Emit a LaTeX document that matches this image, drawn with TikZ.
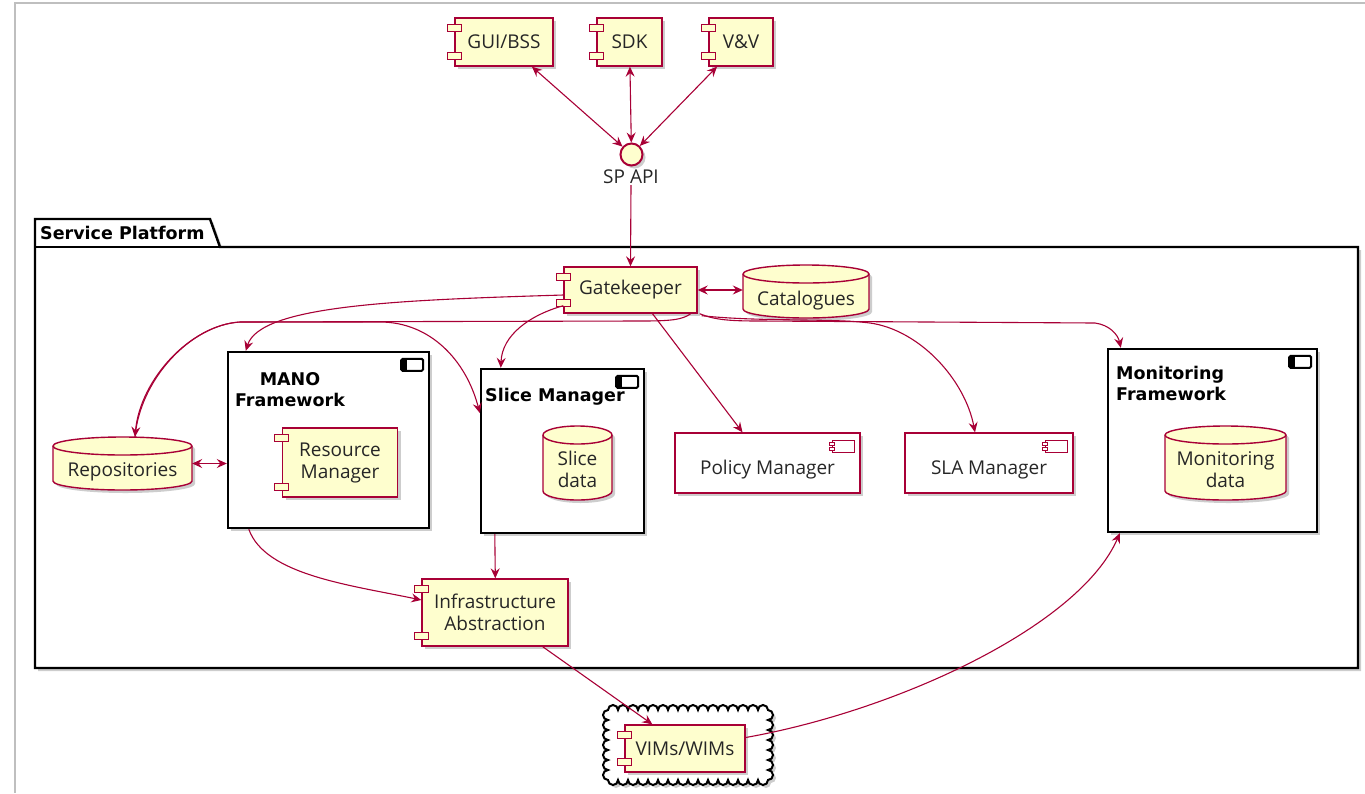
\documentclass[tikz,border=0pt]{standalone}
\usepackage{fontspec}
\setmainfont{Open Sans}
\newfontfamily\boldsans{DejaVu Sans}
\usetikzlibrary{arrows.meta,calc,shadows}
\definecolor{umlred}{HTML}{A80036}
\definecolor{umlfill}{HTML}{FEFECE}
\definecolor{umltext}{HTML}{262626}

% text printed lower than the node centre, keeping the node's box
\newcommand\lowered[2]{\raisebox{-#1}[\height][\depth]{#2}}
\newcommand\twolines[2]{\begin{tabular}{@{}c@{}}#1\\#2\end{tabular}}

\tikzset{
  txtbase/.style={font=\fontsize{19}{22}\selectfont, text=umltext},
  softshadow/.style={drop shadow={shadow xshift=3pt, shadow yshift=-3pt, opacity=0.28, fill=black!70}},
  comp/.style={txtbase, draw=umlred, fill=umlfill, line width=1.4pt, softshadow, inner sep=0pt, align=center},
  lug/.style={draw=umlred, fill=umlfill, line width=1.2pt},
  plaincomp/.style={txtbase, draw=umlred, fill=white, line width=1.4pt, softshadow, inner sep=0pt},
  fwbox/.style={draw=black, fill=white, line width=2.4pt, softshadow, inner sep=0pt},
  ftitle/.style={font=\boldsans\bfseries\fontsize{17.5}{21}\selectfont, text=black, inner sep=0pt},
  dbshape/.style={draw=umlred, fill=umlfill, line width=1.4pt, softshadow},
  dbtext/.style={txtbase, inner sep=0pt, align=center},
  tip/.tip={Stealth[length=10pt,width=9pt,inset=3.5pt]},
  conn/.style={draw=umlred, line width=1.1pt, -tip},
  conntwo/.style={draw=umlred, line width=1.1pt, tip-tip},
}

% component lugs on the left edge
\newcommand\complugs[1]{%
  \draw[lug] ($(#1.north west)+(-7,-7)$) rectangle ++(14,-7);
  \draw[lug] ($(#1.south west)+(-7,7)$) rectangle ++(14,7);}
% small component icon, top right corner
\newcommand\smallicon[1]{%
  \draw[umlred, line width=1.2pt, fill=white] ($(#1.north east)+(-28,-8)$) rectangle ($(#1.north east)+(-6,-20)$);
  \draw[umlred, line width=1pt, fill=white] ($(#1.north east)+(-31,-10)$) rectangle ++(5,-3);
  \draw[umlred, line width=1pt, fill=white] ($(#1.north east)+(-31,-15)$) rectangle ++(5,-3);}
% black component icon of a framework box
\newcommand\frameicon[1]{%
  \draw[black, line width=2pt, rounded corners=1.5pt, fill=white] ($(#1.north east)+(-29,-8)$) rectangle ($(#1.north east)+(-7,-20)$);
  \fill[black] ($(#1.north east)+(-29,-8)$) rectangle ($(#1.north east)+(-23,-20)$);}
% database cylinder: x0, ytop, x1, ybottom (y measured downwards)
\newcommand\cyl[4]{%
  \pgfmathsetmacro\crx{(#3-#1)/2}%
  \path[dbshape] (#1,-#2-9) -- (#1,-#4+9)
     arc[start angle=180,end angle=360,x radius=\crx pt,y radius=9pt]
     -- (#3,-#2-9)
     arc[start angle=0,end angle=180,x radius=\crx pt,y radius=9pt] -- cycle;
  \draw[umlred, line width=1.4pt] (#1,-#2-9) arc[start angle=180,end angle=360,x radius=\crx pt,y radius=9pt];}

\begin{document}
\begin{tikzpicture}[x=1pt,y=1pt]
\useasboundingbox (0,0) rectangle (1365,-793);
\draw[black!25, line width=1.2pt] (15,-793) -- (15,-3) -- (1365,-3);

% external clients
\node[comp, minimum width=98pt, minimum height=48pt] (gui) at (504,-42) {GUI/BSS};
\complugs{gui}
\node[comp, minimum width=65pt, minimum height=48pt] (sdk) at (629.5,-42) {SDK};
\complugs{sdk}
\node[comp, minimum width=64pt, minimum height=48pt] (vv) at (741,-42) {V\&V};
\complugs{vv}

\node[circle, draw=umlred, fill=umlfill, line width=2pt, minimum size=22pt, inner sep=0pt, softshadow] (api) at (631.5,-154.5) {};
\node[txtbase, inner sep=1pt] (apit) at (631,-177) {SP API};

% service platform package
\path[draw=black, fill=white, line width=2.4pt, softshadow]
  (35,-668) -- (35,-219) -- (210,-219) -- (220,-247) -- (1358,-247) -- (1358,-668) -- cycle;
\draw[black, line width=2.4pt] (35,-247) -- (220,-247);
\node[ftitle, anchor=west] (pkgt) at (40,-233) {Service Platform};

% gatekeeper and catalogues
\node[comp, minimum width=133pt, minimum height=46pt] (gk) at (630.5,-290) {Gatekeeper};
\complugs{gk}
\cyl{743}{265}{869}{318}
\node[dbtext, minimum width=126pt, minimum height=53pt] (cat) at (806,-291.5) {\lowered{9pt}{Catalogues}};

% repositories
\cyl{53}{437}{192}{490}
\node[dbtext, minimum width=139pt, minimum height=53pt] (repo) at (122.5,-463.5) {\lowered{8pt}{Repositories}};

% MANO framework
\node[fwbox, minimum width=201pt, minimum height=176pt] (mano) at (328.5,-440) {};
\frameicon{mano}
\node[ftitle, align=center] (manot) at (290,-390) {MANO\\Framework};
\node[comp, minimum width=115pt, minimum height=69pt] (rm) at (340,-462.5) {Resource\\Manager};
\complugs{rm}

% slice manager
\node[fwbox, minimum width=163pt, minimum height=164pt] (slice) at (562.5,-451) {};
\frameicon{slice}
\node[ftitle, anchor=west] (slicet) at (485,-397) {Slice Manager};
\cyl{543}{426}{612}{500}
\node[dbtext, minimum width=69pt, minimum height=74pt] (sdata) at (577.5,-463) {\lowered{9pt}{\twolines{Slice}{data}}};

% policy and SLA managers
\node[plaincomp, minimum width=185pt, minimum height=60pt] (policy) at (767.5,-463) {\lowered{7pt}{Policy Manager}};
\smallicon{policy}
\node[plaincomp, minimum width=168pt, minimum height=60pt] (sla) at (989,-463) {\lowered{7pt}{SLA Manager}};
\smallicon{sla}

% monitoring framework
\node[fwbox, minimum width=209pt, minimum height=183pt] (monfw) at (1212.5,-440.5) {};
\frameicon{monfw}
\node[ftitle, align=left, anchor=north west] (monfwt) at (1116,-366) {Monitoring\\Framework};
\cyl{1165}{426}{1286}{500}
\node[dbtext, minimum width=121pt, minimum height=74pt] (mdata) at (1225.5,-463) {\lowered{9pt}{\twolines{Monitoring}{data}}};

% infrastructure abstraction
\node[comp, minimum width=146pt, minimum height=67pt] (infra) at (495,-612.5) {Infrastructure\\Abstraction};
\complugs{infra}

% scalloped cloud holding VIMs/WIMs
\draw[black, line width=2pt, fill=white, softshadow]
  (608,-710)
  \foreach \k in {1,...,16} { arc[start angle=180, end angle=0, radius=5pt] }
  \foreach \k in {1,...,7} { arc[start angle=90, end angle=-90, radius=5pt] }
  \foreach \k in {1,...,16} { arc[start angle=0, end angle=-180, radius=5pt] }
  \foreach \k in {1,...,7} { arc[start angle=270, end angle=90, radius=5pt] }
  -- cycle;
\node[comp, minimum width=120pt, minimum height=47pt] (vims) at (685,-748.5) {VIMs/WIMs};
\complugs{vims}

% connectors
\draw[conntwo] (gui) -- (api);
\draw[conntwo] (sdk) -- (api);
\draw[conntwo] (vv) -- (api);
\draw[conn] (apit.south) -- (gk.north);
\draw[conntwo] (gk.east) -- (gk.east -| cat.west);
\draw[conntwo] (repo.east) -- (repo.east -| mano.west);

\draw[conn] ($(gk.west)+(0,-5)$) .. controls (400,-300) and (260,-305) .. ($(mano.north west)+(19,0)$);
\draw[conn] ($(gk.south west)+(0,8)$) .. controls (530,-315) and (502,-335) .. ($(slice.north west)+(21,0)$);
\draw[conn] ($(gk.south)+(22,0)$) -- ($(policy.north)+(-25,0)$);
\draw[conn] ($(gk.south east)+(4,-2)$) .. controls (760,-322) and (830,-318) .. (870,-323)
   .. controls (920,-330) and (965,-380) .. ($(sla.north)+(-14,0)$);
\draw[conn] ($(gk.south east)+(2,0)$) .. controls (715,-320) and (730,-321) .. (760,-321) -- (1095,-323)
   .. controls (1110,-325) and (1118,-335) .. ($(monfw.north west)+(14,0)$);
\draw[conn] ($(gk.south east)+(-7,0)$) .. controls (682,-320) and (670,-321) .. (640,-321) -- (240,-322)
   .. controls (190,-325) and (140,-380) .. ($(repo.north)+(12.5,0)$);
\draw[conn] ($(repo.north)+(12.5,0)$) .. controls (140,-380) and (190,-325) .. (240,-322) -- (380,-322)
   .. controls (430,-322) and (466,-360) .. ($(slice.west)+(0,38)$);

\draw[conn] ($(mano.south west)+(22,0)$) .. controls (265,-575) and (350,-585) .. ($(infra.west)+(0,12.5)$);
\draw[conn] ($(slice.south west)+(15,0)$) -- ($(infra.north west)+(74,0)$);
\draw[conn] ($(infra.south east)+(-26,0)$) -- ($(vims.north west)+(28,0)$);
\draw[conn] ($(vims.east)+(0,11)$) .. controls (900,-710) and (1080,-625) .. ($(monfw.south west)+(13,0)$);
\end{tikzpicture}
\end{document}
